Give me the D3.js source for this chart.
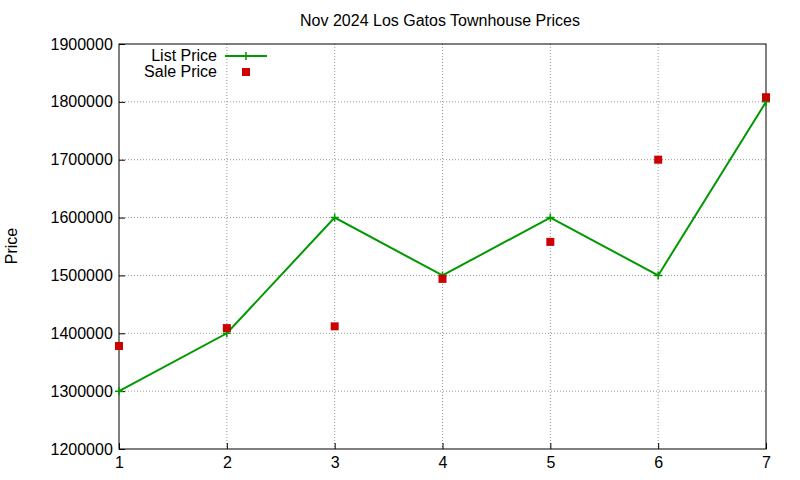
<!DOCTYPE html>
<html><head><meta charset="utf-8">
<script src="https://cdn.jsdelivr.net/npm/d3@7"></script>
<style>body{margin:0;background:#fff}text{font-family:"Liberation Sans",Arial,sans-serif}</style>
</head><body><div id="chart"></div>
<script>
var xs = [1, 2, 3, 4, 5, 6, 7];
var listPrice = [1300000, 1400000, 1600000, 1500000, 1600000, 1500000, 1800000];
var salePrice = [1378000, 1409000, 1412000, 1494000, 1558000, 1700000, 1808000];
var yTicks = [1200000, 1300000, 1400000, 1500000, 1600000, 1700000, 1800000, 1900000];

var margin = {top: 44, right: 34, bottom: 31, left: 119};
var width = 800 - margin.left - margin.right, height = 480 - margin.top - margin.bottom;

var svg = d3.select("#chart").append("svg").attr("width", 800).attr("height", 480);
var g = svg.append("g").attr("transform", "translate(" + margin.left + "," + margin.top + ")");

var x = d3.scaleLinear().domain([1, 7]).range([0, width]);
var y = d3.scaleLinear().domain([1200000, 1900000]).range([height, 0]);

// grid
g.selectAll(".gx").data(xs.slice(1, -1)).enter().append("line")
    .attr("x1", d => x(d)).attr("x2", d => x(d)).attr("y1", 0).attr("y2", height)
    .attr("stroke", "#999").attr("stroke-dasharray", "1,2");
g.selectAll(".gy").data(yTicks.slice(1, -1)).enter().append("line")
    .attr("y1", d => y(d)).attr("y2", d => y(d)).attr("x1", 0).attr("x2", width)
    .attr("stroke", "#999").attr("stroke-dasharray", "1,2");

var xAxis = g.append("g").attr("transform", "translate(0," + height + ")")
    .call(d3.axisBottom(x).tickValues(xs).tickFormat(d3.format("d")).tickSizeInner(-6).tickSizeOuter(0));
var yAxis = g.append("g")
    .call(d3.axisLeft(y).tickValues(yTicks).tickFormat(d3.format("d")).tickSizeInner(-6).tickSizeOuter(0));
[xAxis, yAxis].forEach(function(a) {
    a.select(".domain").remove();
    a.selectAll("line").attr("stroke", "#000");
    a.selectAll("text").attr("font-size", 16).attr("fill", "#000");
});
xAxis.selectAll("text").attr("dy", "1em");
yAxis.selectAll("text").attr("dx", "-0.2em");
g.append("rect").attr("width", width).attr("height", height).attr("fill", "none").attr("stroke", "#000");

// list line
var green = "#009900";
g.append("path").datum(xs.map((d, i) => [d, listPrice[i]]))
    .attr("d", d3.line().x(d => x(d[0])).y(d => y(d[1])))
    .attr("fill", "none").attr("stroke", green).attr("stroke-width", 2);
function plus(sel, cx, cy) {
    sel.append("path").attr("d", "M" + (cx - 4) + "," + cy + "h8M" + cx + "," + (cy - 4) + "v8")
        .attr("stroke", green).attr("stroke-width", 1.5);
}
xs.forEach((d, i) => plus(g, x(d), y(listPrice[i])));

// sale points
g.selectAll(".sale").data(xs).enter().append("rect")
    .attr("x", d => x(d) - 4).attr("y", (d, i) => y(salePrice[i]) - 4)
    .attr("width", 8).attr("height", 8).attr("fill", "#cc0000");

// legend
svg.append("text").attr("x", 217).attr("y", 61).attr("text-anchor", "end").attr("font-size", 16).text("List Price");
svg.append("line").attr("x1", 225).attr("x2", 267).attr("y1", 56).attr("y2", 56).attr("stroke", green).attr("stroke-width", 2);
plus(svg, 246, 56);
svg.append("text").attr("x", 217).attr("y", 77).attr("text-anchor", "end").attr("font-size", 16).text("Sale Price");
svg.append("rect").attr("x", 242).attr("y", 68).attr("width", 8).attr("height", 8).attr("fill", "#cc0000");

svg.append("text").attr("x", 440).attr("y", 26).attr("text-anchor", "middle").attr("font-size", 16).text("Nov 2024 Los Gatos Townhouse Prices");
svg.append("text").attr("transform", "translate(17,246) rotate(-90)").attr("text-anchor", "middle").attr("font-size", 16).text("Price");
</script></body></html>
